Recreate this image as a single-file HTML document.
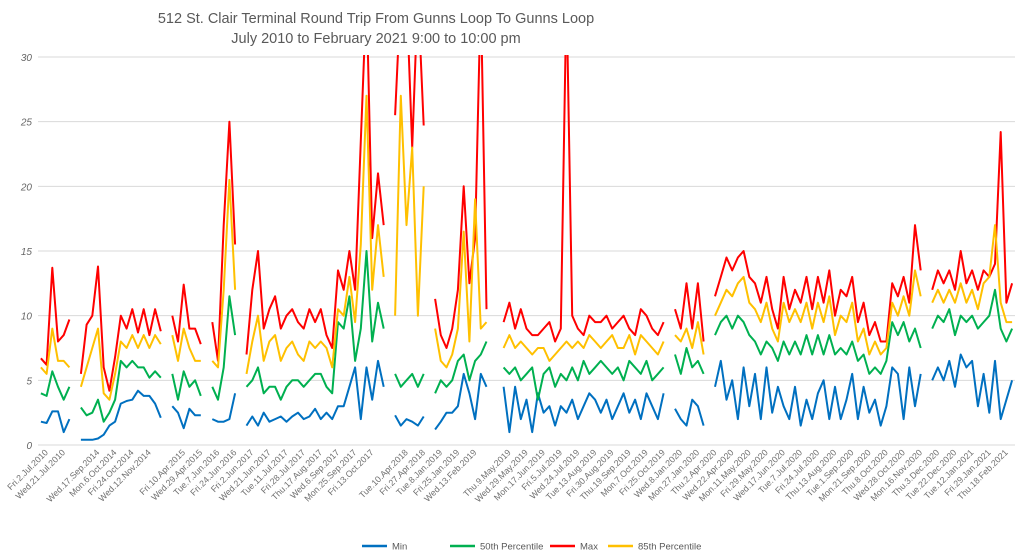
<!DOCTYPE html>
<html><head><meta charset="utf-8"><style>
body{margin:0;background:#fff;font-family:"Liberation Sans",sans-serif;}
svg{display:block}
</style></head><body>
<svg id="chart" width="1024" height="557" viewBox="0 0 1024 557" xmlns="http://www.w3.org/2000/svg">
<text x="376" y="23" text-anchor="middle" font-size="14.5" fill="#595959">512 St. Clair Terminal Round Trip From Gunns Loop To Gunns Loop</text>
<text x="376" y="43" text-anchor="middle" font-size="14.5" fill="#595959">July 2010 to February 2021 9:00 to 10:00 pm</text>
<defs><clipPath id="plotclip"><rect x="30" y="55" width="990" height="392"/></clipPath></defs>
<g id="grid"></g><g id="series" clip-path="url(#plotclip)"></g><g id="xlabels"></g>
<g>
<line x1="362" y1="546" x2="387" y2="546" stroke="#0070c0" stroke-width="2.5"/>
<text x="392" y="549.5" font-size="9.5" fill="#595959">Min</text>
<line x1="450" y1="546" x2="475" y2="546" stroke="#00b050" stroke-width="2.5"/>
<text x="480" y="549.5" font-size="9.5" fill="#595959">50th Percentile</text>
<line x1="550" y1="546" x2="575" y2="546" stroke="#ff0000" stroke-width="2.5"/>
<text x="580" y="549.5" font-size="9.5" fill="#595959">Max</text>
<line x1="608" y1="546" x2="633" y2="546" stroke="#ffc000" stroke-width="2.5"/>
<text x="638" y="549.5" font-size="9.5" fill="#595959">85th Percentile</text>
</g>
</svg>
<script>
const xLabels=["Fri.2.Jul.2010","Wed.21.Jul.2010","","Wed.17.Sep.2014","Mon.6.Oct.2014","Fri.24.Oct.2014","Wed.12.Nov.2014","","Fri.10.Apr.2015","Wed.29.Apr.2015","Tue.7.Jun.2016","Fri.24.Jun.2016","Fri.2.Jun.2017","Wed.21.Jun.2017","Tue.11.Jul.2017","Fri.28.Jul.2017","Thu.17.Aug.2017","Wed.6.Sep.2017","Mon.25.Sep.2017","Fri.13.Oct.2017","","Tue.10.Apr.2018","Fri.27.Apr.2018","Tue.8.Jan.2019","Fri.25.Jan.2019","Wed.13.Feb.2019","","Thu.9.May.2019","Wed.29.May.2019","Mon.17.Jun.2019","Fri.5.Jul.2019","Wed.24.Jul.2019","Tue.13.Aug.2019","Fri.30.Aug.2019","Thu.19.Sep.2019","Mon.7.Oct.2019","Fri.25.Oct.2019","Wed.8.Jan.2020","Mon.27.Jan.2020","Thu.2.Apr.2020","Wed.22.Apr.2020","Mon.11.May.2020","Fri.29.May.2020","Wed.17.Jun.2020","Tue.7.Jul.2020","Fri.24.Jul.2020","Thu.13.Aug.2020","Tue.1.Sep.2020","Mon.21.Sep.2020","Thu.8.Oct.2020","Wed.28.Oct.2020","Mon.16.Nov.2020","Thu.3.Dec.2020","Tue.22.Dec.2020","Tue.12.Jan.2021","Fri.29.Jan.2021","Thu.18.Feb.2021"];
const yTicks=[0,5,10,15,20,25,30];
const n=null;
const minVals=[1.8,1.7,2.6,2.6,1.0,2.0,n,
0.4,0.4,0.4,0.5,0.8,1.5,1.8,3.2,3.4,3.5,4.2,3.8,3.8,3.2,2.1,n,
3,2.5,1.3,2.8,2.3,2.3,n,
2,1.8,1.8,2,4,n,
1.5,2.2,1.5,2.5,1.8,2,2.2,1.8,2.2,2.5,2,2.2,2.8,2,2.5,2,3,3,4.5,6,2,6,3.5,6.5,4.5,n,
2.3,1.5,2,1.8,1.5,2.2,n,
1.2,1.8,2.5,2.5,3,5.5,4,2,5.5,4.5,n,n,
4.5,1,4.5,2,3.5,1,4,2.5,3,1.5,3,2.5,3.5,2,3,4,3.5,2.5,3.5,2,3,4,2.5,3.5,2,4,3,2,4,n,
2.8,2,1.5,3.5,3,1.5,n,
4.5,6.5,3.5,5,2,6,3,5.5,2,6,2.5,4.5,3,2,4.5,1.5,3.5,2,4,5,2,4.5,2,3.5,5.5,2,4.5,2.5,3.5,1.5,3,6,5.5,2,6,3,5.5,n,
5,6,5,6.5,4.5,7,6,6.5,3,5.5,2.5,6.5,2,3.5,5];
const p50Vals=[4,3.8,5.7,4.5,3.5,4.5,n,
2.9,2.3,2.5,3.5,1.8,2.5,3.5,6.5,6,6.5,6,6,5.2,5.7,5.2,n,
5.5,3.5,5.7,4.5,5,3.8,n,
4.5,3.5,6,11.5,8.5,n,
4.5,5,6,4,4.5,4.5,3.5,4.5,5,5,4.5,5,5.5,5.5,4.5,4,9.5,9,11.5,6.5,9,15,8,11,9,n,
5.5,4.5,5,5.5,4.5,5.5,n,
4,5,4.5,5,6.5,7,5,6.5,7,8,n,n,
6,5.5,6,5,5.5,6,3.5,5.5,6,4.5,5.5,5,6,5,6.5,5.5,6,6.5,6,5.5,6,5,6.5,6,5.5,6.5,5,5.5,6,n,
7,5.5,7.5,6,6.5,5.5,n,
8.5,9.5,10,9,10,9.5,8.5,8,7,8,7.5,6.5,8,7,8,7,8.5,7,8.5,7,8.5,7,7.5,7,8,6.5,7,5.5,6,5.5,6.5,9.5,8.5,9.5,8,9,7.5,n,
9,10,9.5,10.5,8.5,10,9.5,10,9,9.5,10,12,9,8,9];
const maxVals=[6.7,6.2,13.7,8,8.5,9.7,n,
5.5,9.3,10,13.8,6,4.2,6.8,10,9,10.5,8.7,10.5,8.5,10.5,8.8,n,
10,8,12.4,9,9,7.8,n,
9.5,6.5,17,25,15.5,n,
7,12,15,9,10.5,11.5,9,10,10.5,9.5,9,10.5,9.5,10.5,8.5,7.5,13.5,12,15,12,23.5,35,16,21,17,n,
25.5,35,35,23,35,24.7,n,
11.3,8.5,7.5,9,12,20,12.5,16,35,10.5,n,n,
9.5,11,9,10.5,9,8.5,8.5,9,9.5,8,9,35,10,9,8.5,10,9.5,9.5,10,9,9.5,10,9,8.5,10.5,10,9,8.5,9.5,n,
10.5,9,12.5,9,12.5,8,n,
11.5,13,14.5,13.5,14.5,15,13,12.5,11,13,10.5,9,13,10.5,12,11,13,10.5,13,11,13.5,10,12,11.5,13,9.5,11,8.5,9.5,8,8,12.5,11.5,13,11,17,13.5,n,
12,13.5,12.5,13.5,12,15,12.5,13.5,12,13.5,13,14,24.2,11,12.5];
const p85Vals=[6,5.5,9,6.5,6.5,6,n,
4.5,6,7.5,9,4,3.5,5.5,8,7.5,8.5,7.5,8.5,7.5,8.5,7.8,n,
8.5,6.5,9,7.5,6.5,6.5,n,
6.5,6,12,20.5,12,n,
5.5,8,10,6.5,8,8.5,6.5,7.5,8,7,6.5,8,7.5,8,7.5,6,10.5,10,13,9.5,15.5,27,12,17,13,n,
10,27,17,23,10,20,n,
9,6.5,6,7,9,16.5,8,19,9,9.5,n,n,
7.5,8.5,7.5,8,7.5,7,7.5,7.5,6.5,7,7.5,8,7.5,8,7.5,8.5,8,7.5,8,8.5,7.5,7.5,8.5,7,8.5,8,7.5,7,8,n,
8.5,8,9,7.5,9.5,7,n,
10,11,12,11.5,12.5,13,11,10.5,9.5,11,9,8,11,9.5,10.5,9.5,11,9,11,9.5,11.5,8.5,10,9.5,11,8,9,7,8,7,7.5,11,10,11.5,10,13.5,11.5,n,
11,12,11,12,11,12.5,11,12,10.5,12.5,13,17,11,9.5,9.5];

const NS="http://www.w3.org/2000/svg";
const X0=38,X1=1015,Y0=445,Y1=57,YMAX=30;
const N=minVals.length;
function xScale(i){return X0+(i+0.5)*(X1-X0)/N;}
function slotX(s){return X0+(s+0.5)*(X1-X0)/xLabels.length;}
function yScale(v){return Y0-(v/YMAX)*(Y0-Y1);}
const grid=document.getElementById('grid');
yTicks.forEach(t=>{
  const l=document.createElementNS(NS,'line');
  l.setAttribute('x1',X0);l.setAttribute('x2',X1);l.setAttribute('y1',yScale(t));l.setAttribute('y2',yScale(t));
  l.setAttribute('stroke','#d9d9d9');l.setAttribute('stroke-width','1');
  
  
  grid.appendChild(l);
  const tx=document.createElementNS(NS,'text');
  tx.setAttribute('x',32);tx.setAttribute('y',yScale(t)+4);tx.setAttribute('text-anchor','end');
  tx.setAttribute('font-size','10');tx.setAttribute('fill','#666');tx.setAttribute('font-style','italic');
  tx.textContent=t;
  
  
  grid.appendChild(tx);
});
const xl=document.getElementById('xlabels');
xLabels.forEach((lab,s)=>{
  if(!lab)return;
  const tx=document.createElementNS(NS,'text');
  const x=slotX(s)+2,y=453;
  tx.setAttribute('x',x);tx.setAttribute('y',y);tx.setAttribute('text-anchor','end');
  tx.setAttribute('font-size','8.8');tx.setAttribute('fill','#707070');
  tx.setAttribute('transform','rotate(-45 '+x+' '+y+')');
  tx.textContent=lab;
  
  
  xl.appendChild(tx);
});
const ser=document.getElementById('series');
function draw(vals,color,name){
  let d='',pen=false;
  vals.forEach((v,i)=>{
    if(v===null){pen=false;return;}
    d+=(pen?'L':'M')+xScale(i).toFixed(1)+' '+yScale(v).toFixed(1);pen=true;
  });
  const p=document.createElementNS(NS,'path');
  p.setAttribute('d',d);p.setAttribute('fill','none');p.setAttribute('stroke',color);
  p.setAttribute('stroke-width','2');p.setAttribute('stroke-linejoin','round');
  
  
  ser.appendChild(p);
}
draw(minVals,'#0070c0','min-series-line');
draw(p50Vals,'#00b050','p50-series-line');
draw(maxVals,'#ff0000','max-series-line');
draw(p85Vals,'#ffc000','p85-series-line');
</script>
</body></html>
